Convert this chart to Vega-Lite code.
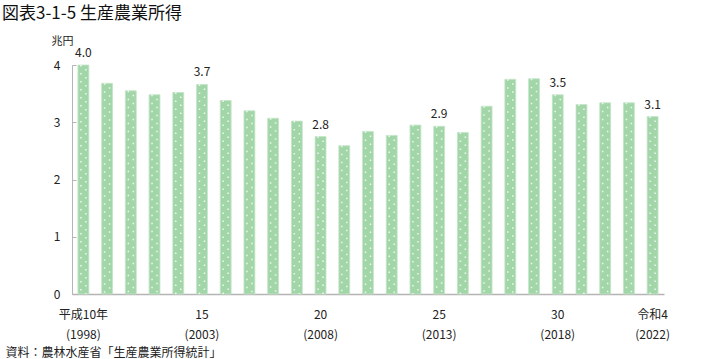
{
  "$schema": "https://vega.github.io/schema/vega-lite/v6.json",
  "width": 592,
  "height": 229,
  "autosize": {"type": "none"},
  "padding": {"left": 72, "top": 65, "right": 59, "bottom": 65},
  "background": "white",
  "config": {
    "font": "Noto Sans CJK JP",
    "view": {"stroke": null}
  },
  "title": {
    "text": "図表3-1-5 生産農業所得",
    "anchor": "start",
    "frame": "group",
    "dx": -70,
    "dy": -8,
    "fontSize": 17,
    "fontWeight": "normal",
    "color": "#111"
  },
  "data": {
    "values": [
      {"year": "1998", "value": 4.0},
      {"year": "1999", "value": 3.68},
      {"year": "2000", "value": 3.55},
      {"year": "2001", "value": 3.48},
      {"year": "2002", "value": 3.52},
      {"year": "2003", "value": 3.66},
      {"year": "2004", "value": 3.38},
      {"year": "2005", "value": 3.2},
      {"year": "2006", "value": 3.07},
      {"year": "2007", "value": 3.02},
      {"year": "2008", "value": 2.75},
      {"year": "2009", "value": 2.59},
      {"year": "2010", "value": 2.84},
      {"year": "2011", "value": 2.77},
      {"year": "2012", "value": 2.95},
      {"year": "2013", "value": 2.93},
      {"year": "2014", "value": 2.82},
      {"year": "2015", "value": 3.28},
      {"year": "2016", "value": 3.75},
      {"year": "2017", "value": 3.76},
      {"year": "2018", "value": 3.48},
      {"year": "2019", "value": 3.31},
      {"year": "2020", "value": 3.34},
      {"year": "2021", "value": 3.34},
      {"year": "2022", "value": 3.1}
    ]
  },
  "encoding": {
    "x": {
      "field": "year",
      "type": "ordinal",
      "sort": null,
      "scale": {"paddingInner": 0.54, "paddingOuter": 0.25},
      "axis": {
        "title": "資料：農林水産省「生産農業所得統計」",
        "titleX": -67,
        "titleY": 58,
        "titleAlign": "left",
        "titleAnchor": "start",
        "titleBaseline": "middle",
        "titleFontSize": 12,
        "titleFontWeight": "normal",
        "titleColor": "#222",
        "labelAngle": 0,
        "labelFontSize": 12,
        "labelColor": "#222",
        "labelPadding": 15,
        "labelLineHeight": 20,
        "labelExpr": "datum.value == '1998' ? ['平成10年', '(1998)'] : datum.value == '2003' ? ['15', '(2003)'] : datum.value == '2008' ? ['20', '(2008)'] : datum.value == '2013' ? ['25', '(2013)'] : datum.value == '2018' ? ['30', '(2018)'] : datum.value == '2022' ? ['令和4', '(2022)'] : ''",
        "ticks": false,
        "domainColor": "#b5b5b5",
        "domainWidth": 1.5,
        "grid": false
      }
    },
    "y": {
      "field": "value",
      "type": "quantitative",
      "scale": {"domain": [0, 4], "nice": false},
      "axis": {
        "title": "兆円",
        "titleAngle": 0,
        "titleX": -10,
        "titleY": -24,
        "titleAlign": "center",
        "titleBaseline": "middle",
        "titleFontSize": 11,
        "titleFontWeight": "normal",
        "titleColor": "#222",
        "values": [0, 1, 2, 3, 4],
        "format": "d",
        "labelFontSize": 12,
        "labelColor": "#222",
        "labelPadding": 16,
        "tickSize": -4,
        "tickColor": "#b5b5b5",
        "domainColor": "#b5b5b5",
        "grid": false
      }
    }
  },
  "layer": [
    {
      "mark": {"type": "bar", "color": "#a2d6a9", "stroke": "#c4e6c8", "strokeWidth": 0.8}
    },
    {
      "mark": {"type": "rule", "color": "white", "strokeWidth": 1.5, "strokeDash": [1.5, 6.5], "strokeDashOffset": 0, "xOffset": -2.5, "opacity": 0.8},
      "encoding": {"y2": {"datum": 0}}
    },
    {
      "mark": {"type": "rule", "color": "white", "strokeWidth": 1.5, "strokeDash": [1.5, 6.5], "strokeDashOffset": -4, "xOffset": 2.5, "opacity": 0.8},
      "encoding": {"y2": {"datum": 0}}
    },
    {
      "transform": [{"filter": "indexof(['1998','2003','2008','2013','2018','2022'], datum.year) >= 0"}],
      "mark": {"type": "text", "baseline": "bottom", "dy": -5, "fontSize": 12, "color": "#222"},
      "encoding": {"text": {"field": "value", "type": "quantitative", "format": ".1f"}}
    }
  ]
}
